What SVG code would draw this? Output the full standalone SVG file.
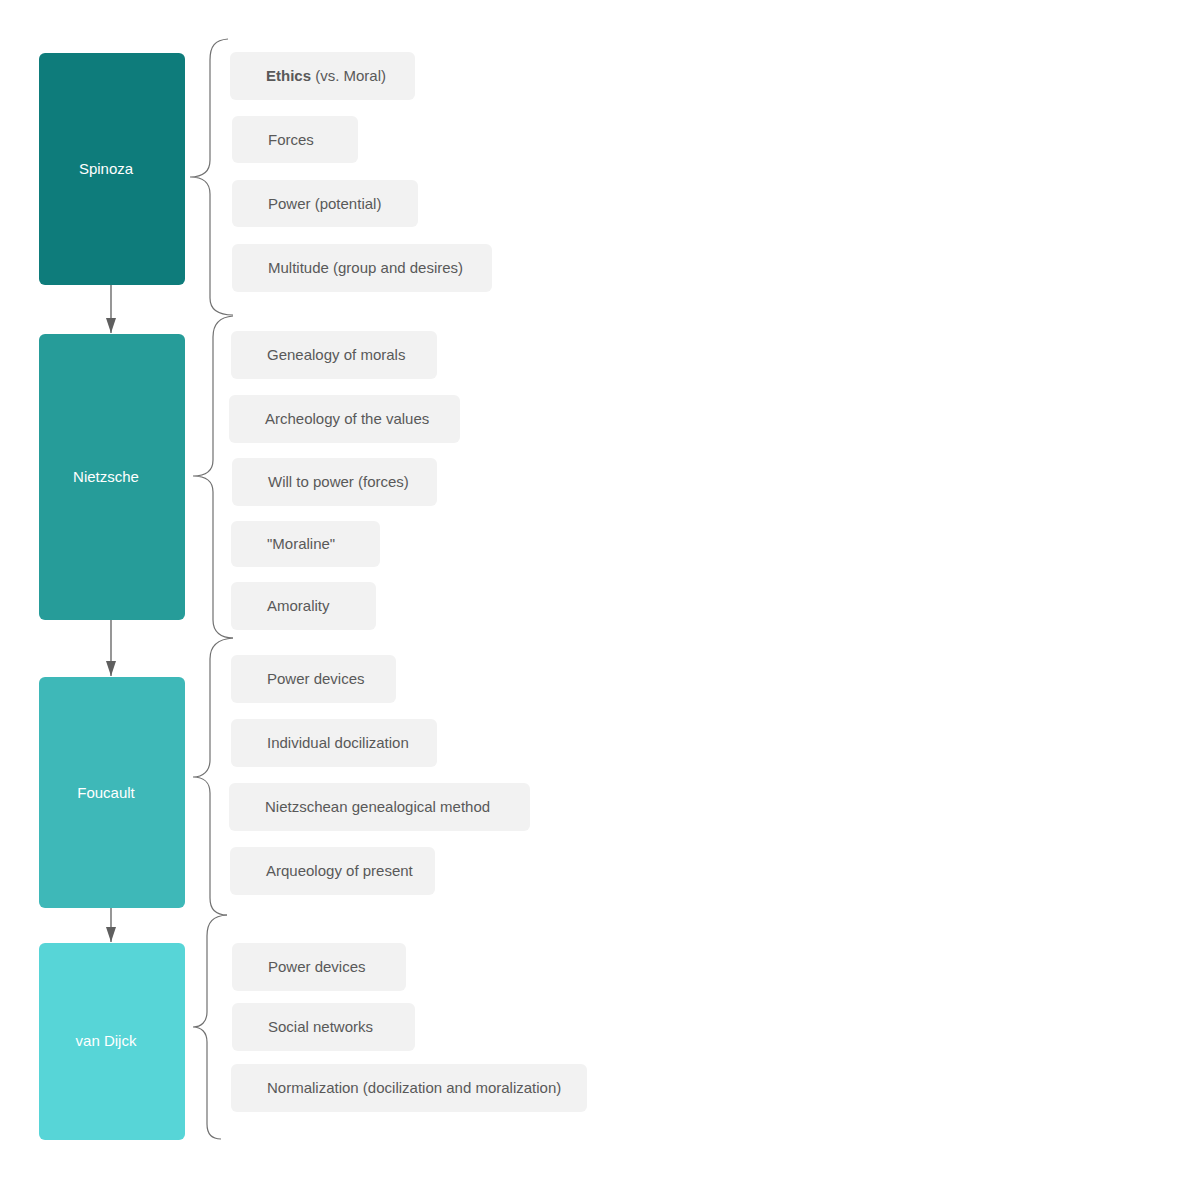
<svg xmlns="http://www.w3.org/2000/svg" width="1191" height="1179" viewBox="0 0 1191 1179">
<style>
.node text{font-family:"Liberation Sans",Arial,sans-serif;font-size:15px;fill:#ffffff;text-anchor:middle}
.item rect{fill:#f2f2f2}
.item text{font-family:"Liberation Sans",Arial,sans-serif;font-size:15px;fill:#595959}
.brace{fill:none;stroke:#707070;stroke-width:1.2}
.conn{stroke:#5f5f5f;stroke-width:1.3;fill:none;marker-end:url(#arr)}
</style>
<defs>
<marker id="arr" markerWidth="15" markerHeight="10" refX="15" refY="5" orient="auto" markerUnits="userSpaceOnUse" viewBox="0 0 15 10">
<path d="M0,0 L15,5 L0,10 Z" fill="#5f5f5f"/>
</marker>
</defs>
<rect width="1191" height="1179" fill="#ffffff"/>
<g id="connectors">
<line class="conn" x1="111" y1="285" x2="111" y2="333"/>
<line class="conn" x1="111" y1="620" x2="111" y2="676"/>
<line class="conn" x1="111" y1="908" x2="111" y2="942"/>
</g>
<g id="braces">
<path class="brace" d="M228,39 C215,40 210,46 210,60 L210,160 C210,172 202,177 190,177 C202,177 210,182 210,194 L210,298 C210,310 218,315 233,315"/>
<path class="brace" d="M233,316 C220,317 213,323 213,337 L213,460 C213,471 205,476 193,476 C205,476 213,481 213,492 L213,620 C213,632 221,638 233,638"/>
<path class="brace" d="M233,638 C218,639 210,645 210,659 L210,760 C210,771 203,777 193,777 C203,777 210,782 210,793 L210,898 C210,910 217,915 227,915"/>
<path class="brace" d="M227,915 C213,916 207,922 207,936 L207,1012 C207,1022 201,1027 193,1027 C201,1027 207,1032 207,1042 L207,1124 C207,1134 212,1139 221,1139"/>
</g>
<g id="spinoza" class="node"><rect x="39" y="53" width="146" height="232" rx="6" fill="#0e7c7b"/><text x="106" y="174">Spinoza</text></g>
<g id="nietzsche" class="node"><rect x="39" y="334" width="146" height="286" rx="6" fill="#269c99"/><text x="106" y="482">Nietzsche</text></g>
<g id="foucault" class="node"><rect x="39" y="677" width="146" height="231" rx="6" fill="#3eb8b8"/><text x="106" y="798">Foucault</text></g>
<g id="vandijck" class="node"><rect x="39" y="943" width="146" height="197" rx="6" fill="#57d5d7"/><text x="106" y="1046">van Dijck</text></g>

<g id="i1" class="item"><rect x="230" y="52" width="185" height="48" rx="6"/><text x="266" y="81"><tspan font-weight="bold">Ethics</tspan> (vs. Moral)</text></g>
<g id="i2" class="item"><rect x="232" y="116" width="126" height="47" rx="6"/><text x="268" y="145">Forces</text></g>
<g id="i3" class="item"><rect x="232" y="180" width="186" height="47" rx="6"/><text x="268" y="209">Power (potential)</text></g>
<g id="i4" class="item"><rect x="232" y="244" width="260" height="48" rx="6"/><text x="268" y="273">Multitude (group and desires)</text></g>
<g id="i5" class="item"><rect x="231" y="331" width="206" height="48" rx="6"/><text x="267" y="360">Genealogy of morals</text></g>
<g id="i6" class="item"><rect x="229" y="395" width="231" height="48" rx="6"/><text x="265" y="424">Archeology of the values</text></g>
<g id="i7" class="item"><rect x="232" y="458" width="205" height="48" rx="6"/><text x="268" y="487">Will to power (forces)</text></g>
<g id="i8" class="item"><rect x="231" y="521" width="149" height="46" rx="6"/><text x="267" y="549">"Moraline"</text></g>
<g id="i9" class="item"><rect x="231" y="582" width="145" height="48" rx="6"/><text x="267" y="611">Amorality</text></g>
<g id="i10" class="item"><rect x="231" y="655" width="165" height="48" rx="6"/><text x="267" y="684">Power devices</text></g>
<g id="i11" class="item"><rect x="231" y="719" width="206" height="48" rx="6"/><text x="267" y="748">Individual docilization</text></g>
<g id="i12" class="item"><rect x="229" y="783" width="301" height="48" rx="6"/><text x="265" y="812">Nietzschean genealogical method</text></g>
<g id="i13" class="item"><rect x="230" y="847" width="205" height="48" rx="6"/><text x="266" y="876">Arqueology of present</text></g>
<g id="i14" class="item"><rect x="232" y="943" width="174" height="48" rx="6"/><text x="268" y="972">Power devices</text></g>
<g id="i15" class="item"><rect x="232" y="1003" width="183" height="48" rx="6"/><text x="268" y="1032">Social networks</text></g>
<g id="i16" class="item"><rect x="231" y="1064" width="356" height="48" rx="6"/><text x="267" y="1093">Normalization (docilization and moralization)</text></g>
</svg>
